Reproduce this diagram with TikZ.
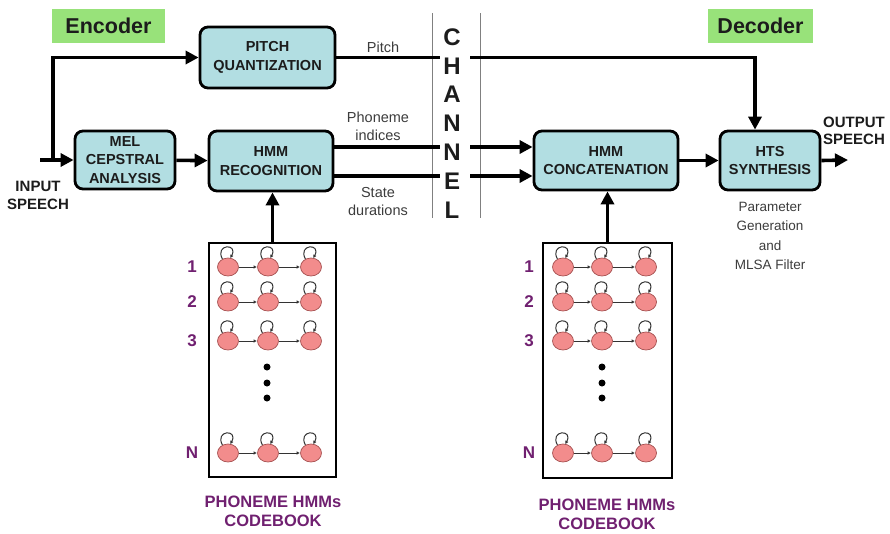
\documentclass[tikz,border=0pt]{standalone}
\usepackage{fontspec}
\setmainfont{Liberation Sans}
\usetikzlibrary{arrows.meta,shapes.geometric}
\definecolor{boxfill}{RGB}{178,222,226}
\definecolor{greenlab}{RGB}{152,226,122}
\definecolor{purp}{RGB}{112,32,112}
\definecolor{salmon}{RGB}{242,140,140}
\definecolor{salmonedge}{RGB}{165,80,80}
\definecolor{txt}{RGB}{28,28,28}
\definecolor{lbl}{RGB}{60,60,60}
\begin{document}
\begin{tikzpicture}[x=1pt,y=-1pt,
  blk/.style={draw=black, line width=2.8pt, rounded corners=8pt, fill=boxfill,
    font=\bfseries\fontsize{14.5}{18.5}\selectfont, text=txt, align=center, inner sep=0pt},
  tag/.style={fill=greenlab, font=\bfseries\fontsize{21.5}{24}\selectfont, text=txt, inner sep=0pt},
  ln/.style={line width=3.6pt},
  arr/.style={line width=3.6pt, -{Triangle[length=13pt,width=13pt]}},
  chan/.style={font=\bfseries\fontsize{24}{26}\selectfont, text=txt, inner sep=0pt},
  lab/.style={font=\fontsize{14.5}{18}\selectfont, text=lbl, align=center, inner sep=0pt},
  io/.style={font=\bfseries\fontsize{15}{17.5}\selectfont, text=txt, align=center, inner sep=0pt},
  cb/.style={draw=black, line width=2.6pt, inner sep=0pt},
  st/.style={ellipse, draw=salmonedge, line width=0.7pt, fill=salmon, minimum width=21pt, minimum height=18pt, inner sep=0pt},
  tr/.style={line width=0.9pt, draw=black!80, -{Triangle[length=3pt,width=3pt]}, shorten >=0.5pt},
  lp/.style={line width=1pt, draw=black!80, -{Triangle[length=3pt,width=3pt]}},
  num/.style={font=\bfseries\fontsize{17}{19}\selectfont, text=purp, inner sep=0pt},
  cbt/.style={font=\bfseries\fontsize{16.5}{19}\selectfont, text=purp, align=center, inner sep=0pt},
  dot/.style={circle, fill=black, minimum size=7pt, inner sep=0pt}
]
\useasboundingbox (0,0) rectangle (890,533);

% labels
\node[tag, minimum width=113pt, minimum height=34pt] (enc) at (108.5,26) {Encoder};
\node[tag, minimum width=105pt, minimum height=34pt] (dec) at (760.5,26) {Decoder};

% blocks
\node[blk, minimum width=135pt, minimum height=61pt] (pq) at (267.5,57.5) {PITCH\\QUANTIZATION};
\node[blk, minimum width=100pt, minimum height=58pt] (mel) at (125,160) {MEL\\CEPSTRAL\\ANALYSIS};
\node[blk, minimum width=124pt, minimum height=60pt] (hmmr) at (271,161) {HMM\\RECOGNITION};
\node[blk, minimum width=144pt, minimum height=59pt] (hmmc) at (606,160.5) {HMM\\CONCATENATION};
\node[blk, minimum width=100pt, minimum height=59pt] (hts) at (770,160.5) {HTS\\SYNTHESIS};

% channel
\draw[gray, line width=0.9pt] (432,13) coordinate (cl1) -- (432,218) coordinate (cl2);
\draw[gray, line width=0.9pt] (480,13) coordinate (cr1) -- (480,218) coordinate (cr2);
\foreach \l [count=\i] in {C,H,A,N,N,E,L}
  \node[chan] (ch\i) at (452,{37+28.8*(\i-1)}) {\l};

% input
\node[io] (inp) at (38,195.5) {INPUT\\SPEECH};
\coordinate (in) at (40,160);
\coordinate (tee) at (53,160);
\draw[arr] (in) -- (mel.west);
\draw[arr] (tee) |- (pq.west);
\draw[arr] (mel) -- (hmmr);

% pitch
\coordinate (pA) at (440,57.5);
\coordinate (pB) at (470,57.5);
\draw[ln] (pq.east) -- (pA);
\draw[arr] (pB) -| ([xshift=-15pt]hts.north);
\node[lab] (lpitch) at (383,47) {Pitch};

% phoneme indices / state durations
\coordinate (qA) at (440,147);
\coordinate (qB) at (470,147);
\coordinate (sA) at (440,176);
\coordinate (sB) at (470,176);
\draw[ln] (hmmr.east |- qA) -- (qA);
\draw[ln] (hmmr.east |- sA) -- (sA);
\draw[arr] (qB) -- (hmmc.west |- qB);
\draw[arr] (sB) -- (hmmc.west |- sB);
\node[lab] (lph) at (378,126) {Phoneme\\indices};
\node[lab] (lsd) at (378,202) {State\\durations};

% decoder chain
\draw[arr] (hmmc) -- (hts);
\coordinate (out) at (848,160);
\draw[arr] (hts.east) -- (out);
\node[io] (outp) at (854,131) {OUTPUT\\SPEECH};
\node[lab, font=\fontsize{13.5}{19.6}\selectfont] (pg) at (770,236) {Parameter\\Generation\\and\\MLSA Filter};

% codebooks
\node[cb, minimum width=127pt, minimum height=234pt] (cbL) at (272.5,360) {};
\node[cb, minimum width=129pt, minimum height=235pt] (cbR) at (607.5,360.5) {};
\draw[arr] (cbL.north) -- (cbL.north |- hmmr.south);
\draw[arr] (cbR.north) -- (cbR.north |- hmmc.south);

\foreach \rw/\y in {1/267,2/302,3/341,N/453} {
  \foreach \c/\x in {a/228,b/268,c/311} {
    \node[st] (L\rw\c) at (\x,\y) {};
    \draw[lp] (L\rw\c.125) .. controls +(-8,-15) and +(8,-15) .. (L\rw\c.75);
  }
  \draw[tr] (L\rw a) -- (L\rw b);
  \draw[tr] (L\rw b) -- (L\rw c);
  \node[num] (Ln\rw) at (192,\y) {\rw};
  \foreach \c/\x in {a/563,b/602,c/646} {
    \node[st] (R\rw\c) at (\x,\y) {};
    \draw[lp] (R\rw\c.125) .. controls +(-8,-15) and +(8,-15) .. (R\rw\c.75);
  }
  \draw[tr] (R\rw a) -- (R\rw b);
  \draw[tr] (R\rw b) -- (R\rw c);
  \node[num] (Rn\rw) at (529,\y) {\rw};
}
\foreach \y [count=\i] in {367,383,398} {
  \node[dot] (dl\i) at (267,\y) {};
  \node[dot] (dr\i) at (602,\y) {};
}
\node[cbt] (cbLt) at (273,511.5) {PHONEME HMMs\\CODEBOOK};
\node[cbt] (cbRt) at (607,514) {PHONEME HMMs\\CODEBOOK};
\end{tikzpicture}
\end{document}
